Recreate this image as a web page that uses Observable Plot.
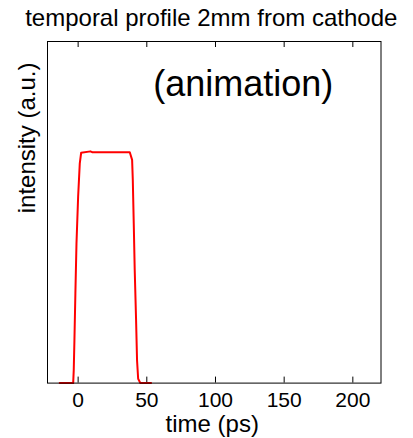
<!DOCTYPE html>
<html>
<head>
<meta charset="utf-8">
<script src="https://cdn.jsdelivr.net/npm/d3@7"></script>
<script src="https://cdn.jsdelivr.net/npm/@observablehq/plot@0.6"></script>
<style>
  html, body { margin: 0; padding: 0; background: #fff; }
  #chart svg { display: block; }
</style>
</head>
<body>
<div id="chart"></div>
<script>
// Laser pulse intensity vs. time, sampled 2 mm from the cathode
const timePs = [-13.4, -3.6, -3.2, -2.7, -2.0, -1.2, 0.0, 1.2, 2.2, 9.0, 10.5, 37.6, 39.3, 39.8, 40.5, 41.2, 42.2, 42.9, 43.7, 45.3, 53.1];
const intensity = [0, 0, 0.055, 0.185, 0.388, 0.605, 0.807, 0.952, 0.998, 1.004, 1.0, 1.0, 0.967, 0.88, 0.69, 0.49, 0.27, 0.098, 0.019, 0, 0];

const xTicks = [0, 50, 100, 150, 200];
const xDomain = [-22.3, 220.5];
const yDomain = [0, 1.48];

const titleText = "temporal profile 2mm from cathode";
const xLabel = "time (ps)";
const yLabel = "intensity (a.u.)";
const note = "(animation)";

const profile = timePs.map((t, i) => ({t, v: intensity[i]}));
const font = "'Liberation Sans', Arial, Helvetica, sans-serif";

const W = 413, H = 438;
const M = {top: 41, right: 32.5, bottom: 55.4, left: 47};
const tickLen = 6;
const innerH = H - M.top - M.bottom;
// tick length expressed in y units so the ticks sit just inside the frame
const tickSpan = (yDomain[1] - yDomain[0]) * tickLen / innerH;

const chart = Plot.plot({
  width: W,
  height: H,
  marginTop: M.top,
  marginRight: M.right,
  marginBottom: M.bottom,
  marginLeft: M.left,
  style: {fontFamily: font, background: "#fff", color: "#000"},
  x: {domain: xDomain, label: null},
  y: {domain: yDomain, axis: null, label: null},
  marks: [
    // tick labels below the frame
    Plot.axisX(xTicks, {anchor: "bottom", label: null, tickSize: 0, tickPadding: 9, fontSize: 21, fill: "#000"}),
    // inward ticks on the bottom and top edges
    Plot.ruleX(xTicks, {x: d => d, y1: yDomain[0], y2: yDomain[0] + tickSpan, stroke: "#000", strokeWidth: 1}),
    Plot.ruleX(xTicks, {x: d => d, y1: yDomain[1] - tickSpan, y2: yDomain[1], stroke: "#000", strokeWidth: 1}),
    Plot.line(profile, {x: "t", y: "v", stroke: "#ff0000", strokeWidth: 2}),
    Plot.frame({stroke: "#000"}),
    Plot.text([titleText], {frameAnchor: "top", lineAnchor: "bottom", dx: -3, dy: -16, fontSize: 24, fill: "#000"}),
    Plot.text([note], {frameAnchor: "top", lineAnchor: "bottom", dx: 29, dy: 54, fontSize: 36, fill: "#000"}),
    Plot.text([xLabel], {frameAnchor: "bottom", lineAnchor: "bottom", dx: -2, dy: 49, fontSize: 24, fill: "#000"}),
    Plot.text([yLabel], {frameAnchor: "left", lineAnchor: "bottom", rotate: -90, dx: -13, dy: 1, fontSize: 24, fill: "#000"})
  ]
});

document.getElementById("chart").appendChild(chart);
</script>
</body>
</html>
